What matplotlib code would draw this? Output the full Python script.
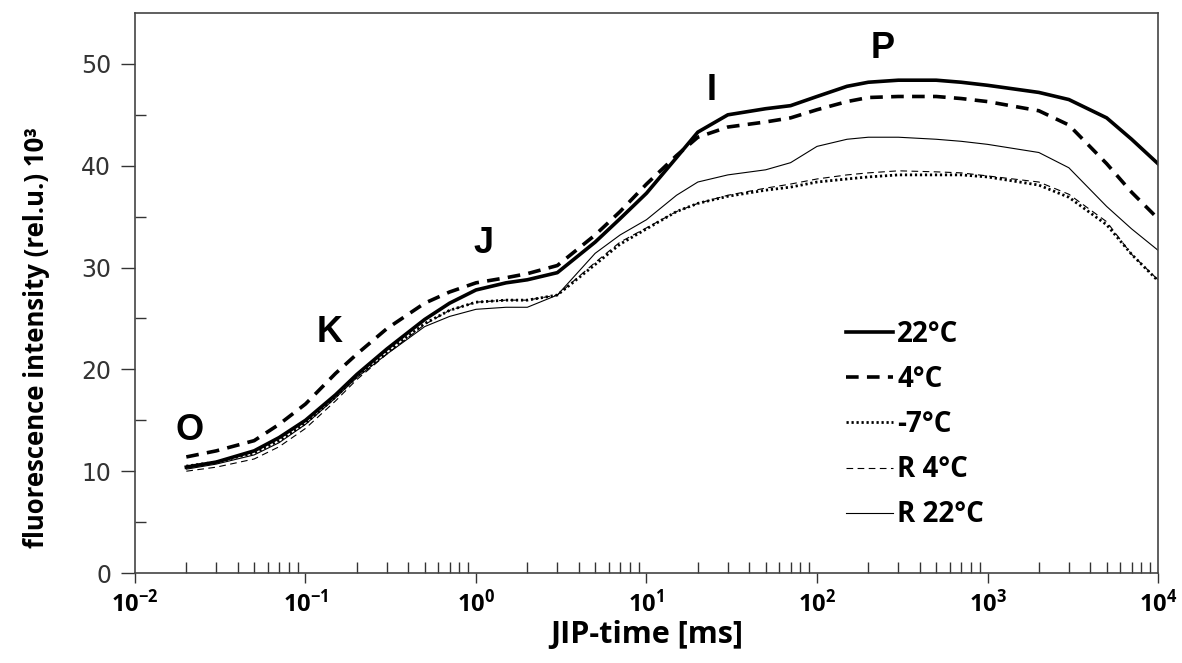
import math

import matplotlib.pyplot as plt
from matplotlib.ticker import FixedLocator, NullFormatter, FuncFormatter

plt.rcParams["mathtext.fontset"] = "custom"
plt.rcParams["mathtext.rm"] = "Open Sans"
plt.rcParams["mathtext.bf"] = "Open Sans:bold"

# JIP-time grid (ms) and fluorescence (x 10^3 rel.u.)
t_ms = [0.02, 0.03, 0.05, 0.07, 0.1, 0.15, 0.2, 0.3, 0.5, 0.7, 1, 1.5, 2, 3, 5, 7,
        10, 15, 20, 30, 50, 70, 100, 150, 200, 300, 500, 700, 1000, 2000, 3000,
        5000, 7000, 10000]

f_22 = [10.4, 10.9, 12.0, 13.3, 15.0, 17.5, 19.5, 22.0, 24.9, 26.5, 27.8, 28.5,
        28.8, 29.5, 32.5, 34.8, 37.3, 40.8, 43.3, 45.0, 45.6, 45.9, 46.8, 47.8,
        48.2, 48.4, 48.4, 48.2, 47.9, 47.2, 46.5, 44.7, 42.6, 40.2]
f_4 = [11.4, 12.0, 13.0, 14.6, 16.6, 19.6, 21.5, 24.0, 26.5, 27.6, 28.5, 29.0,
       29.4, 30.2, 33.2, 35.5, 38.2, 41.0, 42.8, 43.8, 44.3, 44.7, 45.5, 46.3,
       46.7, 46.8, 46.8, 46.6, 46.3, 45.4, 44.0, 40.2, 37.4, 34.8]
f_m7 = [10.5, 10.9, 11.8, 13.0, 14.7, 17.3, 19.3, 21.7, 24.5, 25.8, 26.6, 26.8,
        26.8, 27.3, 30.3, 32.3, 33.8, 35.5, 36.3, 37.0, 37.6, 37.9, 38.4, 38.7,
        38.9, 39.1, 39.1, 39.1, 38.9, 38.1, 36.9, 34.2, 31.3, 28.7]
f_r4 = [10.0, 10.4, 11.2, 12.4, 14.2, 16.9, 19.0, 21.5, 24.4, 25.8, 26.6, 26.8,
        26.8, 27.3, 30.5, 32.5, 33.9, 35.5, 36.3, 37.1, 37.8, 38.2, 38.7, 39.1,
        39.3, 39.5, 39.4, 39.3, 39.0, 38.4, 37.2, 34.5, 31.3, 28.8]
f_r22 = [10.2, 10.7, 11.6, 12.8, 14.6, 17.2, 19.2, 21.5, 24.2, 25.2, 25.9, 26.1,
         26.1, 27.3, 31.4, 33.2, 34.7, 37.1, 38.4, 39.1, 39.6, 40.3, 41.9, 42.6,
         42.8, 42.8, 42.6, 42.4, 42.1, 41.3, 39.8, 36.0, 33.8, 31.7]

labels = ["22°C", "4°C", "-7°C", "R 4°C", "R 22°C"]

# OJIP step letters and where they sit (time ms, intensity)
step_names = ["O", "K", "J", "I", "P"]
step_t = [0.021, 0.139, 1.1, 24.2, 244]
step_y = [14.0, 23.6, 32.4, 47.4, 51.5]

x_major = [1e-2, 1e-1, 1e0, 1e1, 1e2, 1e3, 1e4]
x_minor = [m * d for d in x_major[:-1] for m in range(2, 10)]


def tick_fmt(v, pos):
    exp = int(round(math.log10(v)))
    return r"$\mathbf{10^{%d}}$" % exp


fig = plt.figure(figsize=(11.82, 6.63), dpi=100)
ax = fig.add_axes([0.1142, 0.1357, 0.8655, 0.8447])

ax.plot(t_ms, f_22, color="black", lw=2.6, label=labels[0])
ax.plot(t_ms, f_4, color="black", lw=2.6, dashes=(3.5, 2.3), label=labels[1])
ax.plot(t_ms, f_m7, color="black", lw=2.0, dashes=(0.8, 1.0), label=labels[2])
ax.plot(t_ms, f_r4, color="black", lw=0.8, dashes=(6, 4), label=labels[3])
ax.plot(t_ms, f_r22, color="black", lw=0.8, label=labels[4])

for name, tx, ty in zip(step_names, step_t, step_y):
    ax.text(tx, ty, name, ha="center", va="center", fontsize=26,
            fontweight="bold", family="Liberation Sans")

ax.set_xscale("log")
ax.set_xlim(0.01, 10000)
ax.set_ylim(0, 55)

ax.xaxis.set_major_locator(FixedLocator(x_major))
ax.xaxis.set_minor_locator(FixedLocator(x_minor))
ax.xaxis.set_major_formatter(FuncFormatter(tick_fmt))
ax.xaxis.set_minor_formatter(NullFormatter())
ax.yaxis.set_major_locator(FixedLocator([0, 10, 20, 30, 40, 50]))
ax.yaxis.set_minor_locator(FixedLocator([5, 15, 25, 35, 45]))

ax.tick_params(axis="x", which="major", direction="out", length=7, width=1,
               labelsize=17, pad=5, color="#333333")
ax.tick_params(axis="x", which="minor", direction="in", length=8, width=1,
               color="#333333")
ax.tick_params(axis="y", which="major", direction="out", length=10, width=1,
               labelsize=17, pad=7, color="#333333", labelcolor="#333333")
ax.tick_params(axis="y", which="minor", direction="in", length=8, width=1,
               color="#333333")
for lab in ax.get_yticklabels():
    lab.set_family("DejaVu Sans")

for sp in ax.spines.values():
    sp.set_color("#444444")
    sp.set_linewidth(1.2)

ax.set_xlabel("JIP-time [ms]", fontsize=22, fontweight="bold",
              family="Open Sans", labelpad=2)
ax.set_ylabel("fluorescence intensity (rel.u.) 10³", fontsize=18.5,
              fontweight="bold", family="Open Sans")
ax.yaxis.set_label_coords(-0.083, 0.42)

ax.legend(loc="upper left", bbox_to_anchor=(0.695, 0.452), frameon=False,
          prop={"family": "Open Sans", "weight": "bold", "size": 20},
          handlelength=1.7, handletextpad=0.15, labelspacing=0.58,
          borderpad=0, borderaxespad=0)

fig.savefig("out.png", dpi=100)
